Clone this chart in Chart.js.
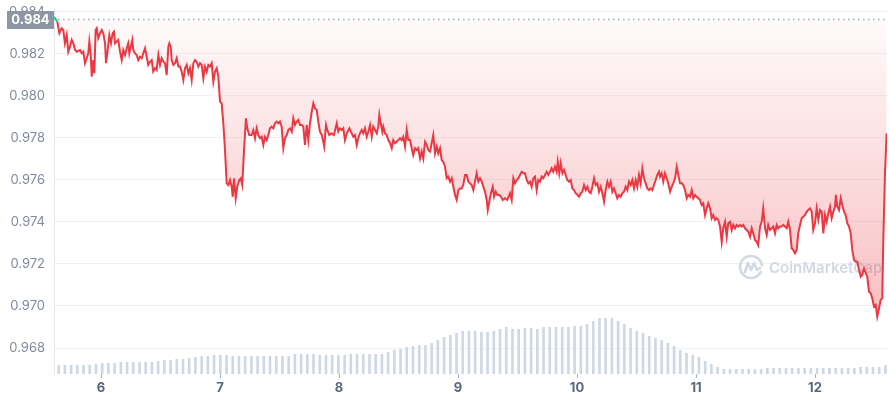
<!DOCTYPE html>
<html>
<head>
<meta charset="utf-8">
<script src="https://cdn.jsdelivr.net/npm/chart.js@4.4.1/dist/chart.umd.min.js"></script>
<style>
	html, body { margin: 0; padding: 0; background: #ffffff; }
	#wrap { width: 889px; height: 400px; position: relative; }
</style>
</head>
<body>
<div id="wrap"><canvas id="myChart"></canvas></div>
<script>
// prix (jour du mois, valeur)
var days = [
	5.605,5.633,5.650,5.670,5.683,5.697,5.712,5.725,5.739,5.754,
	5.767,5.782,5.796,5.824,5.838,5.851,5.866,5.880,5.893,5.902,
	5.913,5.922,5.935,5.944,5.955,5.964,5.977,5.992,6.006,6.019,
	6.034,6.042,6.053,6.070,6.084,6.098,6.109,6.118,6.132,6.145,
	6.160,6.174,6.187,6.202,6.216,6.229,6.238,6.250,6.263,6.271,
	6.286,6.300,6.313,6.328,6.342,6.355,6.370,6.384,6.397,6.412,
	6.426,6.439,6.454,6.468,6.482,6.496,6.510,6.524,6.538,6.552,
	6.566,6.574,6.586,6.594,6.608,6.622,6.636,6.650,6.664,6.678,
	6.692,6.706,6.720,6.734,6.748,6.762,6.776,6.790,6.804,6.818,
	6.832,6.846,6.860,6.874,6.888,6.902,6.916,6.930,6.944,6.958,
	6.972,6.986,7.000,7.014,7.028,7.042,7.056,7.070,7.084,7.098,
	7.107,7.118,7.132,7.145,7.162,7.174,7.187,7.202,7.218,7.229,
	7.246,7.266,7.280,7.294,7.308,7.322,7.336,7.350,7.364,7.378,
	7.392,7.406,7.420,7.434,7.448,7.462,7.476,7.490,7.504,7.518,
	7.532,7.546,7.561,7.574,7.588,7.603,7.616,7.630,7.645,7.658,
	7.672,7.687,7.700,7.714,7.729,7.742,7.756,7.771,7.784,7.798,
	7.813,7.826,7.840,7.855,7.868,7.876,7.891,7.902,7.918,7.939,
	7.958,7.981,7.994,8.008,8.023,8.036,8.050,8.065,8.087,8.107,
	8.120,8.134,8.149,8.162,8.176,8.191,8.204,8.218,8.233,8.246,
	8.261,8.275,8.288,8.303,8.317,8.330,8.339,8.350,8.364,8.372,
	8.387,8.401,8.414,8.429,8.443,8.456,8.471,8.485,8.498,8.513,
	8.527,8.540,8.555,8.569,8.582,8.597,8.611,8.624,8.639,8.653,
	8.666,8.681,8.695,8.708,8.723,8.737,8.750,8.765,8.779,8.792,
	8.807,8.821,8.834,8.849,8.863,8.876,8.891,8.905,8.918,8.933,
	8.947,8.961,8.975,8.989,9.003,9.017,9.031,9.044,9.059,9.073,
	9.087,9.101,9.115,9.129,9.143,9.157,9.171,9.185,9.199,9.213,
	9.227,9.241,9.250,9.263,9.277,9.292,9.303,9.317,9.330,9.347,
	9.361,9.376,9.395,9.414,9.437,9.451,9.465,9.479,9.493,9.507,
	9.521,9.535,9.549,9.563,9.577,9.591,9.605,9.619,9.633,9.647,
	9.661,9.675,9.689,9.703,9.717,9.731,9.745,9.759,9.773,9.787,
	9.801,9.815,9.829,9.838,9.851,9.863,9.877,9.891,9.905,9.918,
	9.933,9.947,9.961,9.975,9.989,10.003,10.017,10.031,10.045,10.059,
	10.073,10.087,10.101,10.115,10.129,10.143,10.157,10.171,10.185,10.199,
	10.213,10.227,10.241,10.255,10.269,10.283,10.297,10.311,10.325,10.339,
	10.353,10.367,10.381,10.395,10.409,10.423,10.437,10.451,10.465,10.479,
	10.493,10.507,10.521,10.535,10.549,10.563,10.577,10.591,10.605,10.619,
	10.633,10.647,10.661,10.675,10.689,10.697,10.711,10.725,10.739,10.754,
	10.767,10.782,10.796,10.809,10.824,10.838,10.851,10.866,10.880,10.893,
	10.908,10.922,10.935,10.950,10.964,10.977,10.992,11.006,11.019,11.034,
	11.048,11.061,11.076,11.090,11.103,11.118,11.132,11.145,11.160,11.174,
	11.187,11.202,11.216,11.229,11.244,11.258,11.271,11.286,11.300,11.313,
	11.328,11.342,11.355,11.370,11.384,11.397,11.412,11.426,11.439,11.454,
	11.468,11.481,11.496,11.510,11.523,11.538,11.552,11.565,11.580,11.594,
	11.607,11.622,11.636,11.649,11.664,11.678,11.691,11.706,11.720,11.733,
	11.748,11.762,11.775,11.790,11.804,11.817,11.832,11.846,11.859,11.874,
	11.888,11.901,11.916,11.930,11.943,11.958,11.972,11.985,12.000,12.014,
	12.028,12.042,12.056,12.070,12.084,12.098,12.112,12.126,12.140,12.154,
	12.168,12.176,12.187,12.202,12.216,12.229,12.244,12.258,12.271,12.286,
	12.300,12.313,12.328,12.342,12.355,12.370,12.384,12.397,12.412,12.426,
	12.439,12.454,12.468,12.481,12.496,12.510,12.523,12.538,12.552,12.565,
	12.574,12.588,12.602
];

var prices = [
	0.98376,0.98354,0.98299,0.98322,0.98314,0.98251,0.98290,0.98211,0.98235,0.98267,
	0.98251,0.98219,0.98211,0.98219,0.98203,0.98211,0.98156,0.98180,0.98203,0.98259,
	0.98203,0.98092,0.98171,0.98108,0.98314,0.98322,0.98275,0.98299,0.98314,0.98299,
	0.98251,0.98156,0.98203,0.98290,0.98251,0.98299,0.98306,0.98251,0.98259,0.98267,
	0.98211,0.98171,0.98219,0.98195,0.98227,0.98251,0.98203,0.98235,0.98267,0.98219,
	0.98203,0.98195,0.98171,0.98187,0.98180,0.98203,0.98227,0.98187,0.98148,0.98163,
	0.98171,0.98116,0.98132,0.98124,0.98195,0.98148,0.98180,0.98163,0.98156,0.98100,
	0.98235,0.98251,0.98235,0.98171,0.98148,0.98156,0.98180,0.98140,0.98140,0.98116,
	0.98076,0.98132,0.98148,0.98108,0.98132,0.98076,0.98156,0.98171,0.98163,0.98140,
	0.98156,0.98148,0.98084,0.98140,0.98116,0.98148,0.98140,0.98156,0.98068,0.98116,
	0.98132,0.98092,0.97973,0.97965,0.97870,0.97743,0.97584,0.97576,0.97600,0.97568,
	0.97520,0.97608,0.97513,0.97568,0.97600,0.97608,0.97576,0.97743,0.97894,0.97846,
	0.97814,0.97814,0.97838,0.97799,0.97846,0.97814,0.97799,0.97806,0.97767,0.97806,
	0.97790,0.97814,0.97846,0.97854,0.97846,0.97870,0.97878,0.97870,0.97878,0.97854,
	0.97751,0.97799,0.97814,0.97838,0.97846,0.97830,0.97894,0.97862,0.97878,0.97886,
	0.97862,0.97862,0.97854,0.97767,0.97862,0.97790,0.97870,0.97925,0.97965,0.97941,
	0.97933,0.97878,0.97830,0.97814,0.97782,0.97759,0.97862,0.97838,0.97814,0.97822,
	0.97814,0.97870,0.97830,0.97846,0.97838,0.97846,0.97790,0.97822,0.97846,0.97822,
	0.97806,0.97814,0.97767,0.97799,0.97822,0.97838,0.97822,0.97846,0.97806,0.97830,
	0.97862,0.97806,0.97854,0.97838,0.97822,0.97854,0.97910,0.97870,0.97830,0.97854,
	0.97822,0.97814,0.97790,0.97775,0.97751,0.97790,0.97775,0.97782,0.97790,0.97799,
	0.97790,0.97806,0.97759,0.97838,0.97790,0.97790,0.97751,0.97719,0.97751,0.97743,
	0.97751,0.97703,0.97735,0.97703,0.97782,0.97767,0.97743,0.97735,0.97775,0.97814,
	0.97727,0.97759,0.97727,0.97751,0.97695,0.97687,0.97663,0.97608,0.97616,0.97592,
	0.97608,0.97568,0.97529,0.97505,0.97552,0.97560,0.97560,0.97576,0.97624,0.97624,
	0.97592,0.97584,0.97576,0.97552,0.97592,0.97632,0.97592,0.97608,0.97592,0.97568,
	0.97544,0.97505,0.97457,0.97497,0.97537,0.97568,0.97520,0.97544,0.97529,0.97529,
	0.97520,0.97505,0.97513,0.97505,0.97537,0.97505,0.97608,0.97584,0.97600,0.97608,
	0.97624,0.97639,0.97632,0.97632,0.97600,0.97584,0.97592,0.97568,0.97608,0.97616,
	0.97552,0.97600,0.97592,0.97616,0.97608,0.97624,0.97639,0.97624,0.97639,0.97656,
	0.97639,0.97663,0.97639,0.97687,0.97632,0.97680,0.97632,0.97648,0.97624,0.97600,
	0.97592,0.97600,0.97560,0.97552,0.97537,0.97529,0.97520,0.97537,0.97544,0.97576,
	0.97552,0.97568,0.97544,0.97537,0.97568,0.97608,0.97576,0.97584,0.97544,0.97568,
	0.97537,0.97497,0.97552,0.97592,0.97568,0.97592,0.97544,0.97560,0.97537,0.97513,
	0.97529,0.97520,0.97537,0.97544,0.97568,0.97552,0.97592,0.97576,0.97600,0.97560,
	0.97600,0.97568,0.97624,0.97584,0.97656,0.97608,0.97584,0.97560,0.97552,0.97560,
	0.97552,0.97576,0.97600,0.97624,0.97639,0.97616,0.97632,0.97592,0.97632,0.97608,
	0.97584,0.97544,0.97568,0.97584,0.97608,0.97663,0.97624,0.97584,0.97584,0.97576,
	0.97552,0.97513,0.97529,0.97520,0.97552,0.97513,0.97529,0.97520,0.97513,0.97505,
	0.97481,0.97489,0.97433,0.97465,0.97489,0.97465,0.97418,0.97433,0.97410,0.97418,
	0.97410,0.97378,0.97306,0.97370,0.97401,0.97330,0.97394,0.97401,0.97362,0.97386,
	0.97370,0.97386,0.97378,0.97386,0.97378,0.97386,0.97370,0.97362,0.97354,0.97330,
	0.97370,0.97346,0.97314,0.97306,0.97290,0.97378,0.97401,0.97465,0.97370,0.97338,
	0.97386,0.97362,0.97370,0.97378,0.97346,0.97386,0.97370,0.97378,0.97378,0.97386,
	0.97378,0.97370,0.97401,0.97362,0.97275,0.97267,0.97251,0.97267,0.97346,0.97386,
	0.97418,0.97425,0.97433,0.97449,0.97457,0.97465,0.97449,0.97362,0.97394,0.97465,
	0.97410,0.97457,0.97449,0.97346,0.97433,0.97401,0.97441,0.97473,0.97418,0.97449,
	0.97473,0.97529,0.97473,0.97457,0.97513,0.97481,0.97449,0.97433,0.97394,0.97378,
	0.97346,0.97267,0.97219,0.97211,0.97211,0.97171,0.97140,0.97148,0.97179,0.97156,
	0.97140,0.97068,0.97060,0.97037,0.96997,0.97005,0.96949,0.96989,0.97029,0.97037,
	0.97314,0.97632,0.97822
];

// volume (relatif), barres régulières sur la période
var volumes = [
	9,9,9,9,9,9,10,11,11,11,
	12,12,12,12,12,12,13,14,14,15,
	15,16,17,18,18,19,19,19,18,18,
	18,18,18,18,18,18,18,18,20,20,
	20,20,19,19,19,19,19,20,20,20,
	20,20,20,22,24,25,27,28,29,29,
	31,34,37,39,41,43,43,43,42,42,
	43,45,47,45,45,46,46,45,47,47,
	47,47,47,48,48,50,53,56,56,56,
	53,50,46,43,41,38,36,34,31,28,
	24,21,19,17,13,10,7,5,5,5,
	5,5,5,5,6,6,6,6,6,6,
	6,6,6,6,6,6,6,6,6,7,
	7,7,7,9
];

var openPrice = 0.98364;
var openLabel = '0.984';
var yTicks = [0.968, 0.970, 0.972, 0.974, 0.976, 0.978, 0.980, 0.982, 0.984];
var xTicks = [6, 7, 8, 9, 10, 11, 12];

var RED = '#ea3943';
var GREEN = '#16c784';

var linePoints = days.map(function(d, i) { return {x: d, y: prices[i]}; });

//
// ligne pointillée + étiquette du prix d'ouverture
//
var openLinePlugin = {
	id: 'openLine',
	afterDatasetsDraw: function(chart) {
		var ctx = chart.ctx;
		var area = chart.chartArea;
		var y = chart.scales.y.getPixelForValue(openPrice);
		ctx.save();
		ctx.strokeStyle = '#a3abb8';
		ctx.lineWidth = 1.5;
		ctx.setLineDash([1.5, 3.5]);
		ctx.beginPath();
		ctx.moveTo(area.left + 4, y);
		ctx.lineTo(area.right, y);
		ctx.stroke();
		ctx.restore();
	},
	afterDraw: function(chart) {
		var ctx = chart.ctx;
		var area = chart.chartArea;
		var y = chart.scales.y.getPixelForValue(openPrice);
		ctx.save();
		ctx.fillStyle = '#8e96a4';
		ctx.fillRect(7, Math.round(y) - 9, area.left - 7, 18);
		ctx.fillStyle = '#ffffff';
		ctx.font = 'bold 13px Inter';
		ctx.textAlign = 'center';
		ctx.textBaseline = 'middle';
		ctx.fillText(openLabel, 7 + (area.left - 7) / 2, Math.round(y) + 0.5);
		ctx.restore();
	}
};

//
// filigrane
//
var watermarkPlugin = {
	id: 'watermark',
	beforeDatasetsDraw: function(chart) {
		var ctx = chart.ctx;
		var cx = 751, cy = 267;
		ctx.save();
		ctx.strokeStyle = '#d3d9e4';
		ctx.lineWidth = 2.6;
		ctx.lineCap = 'round';
		ctx.lineJoin = 'round';
		ctx.beginPath();
		ctx.arc(cx, cy, 11, 0.15 * Math.PI, 1.95 * Math.PI, false);
		ctx.stroke();
		ctx.beginPath();
		ctx.moveTo(cx - 6, cy + 5);
		ctx.lineTo(cx - 3, cy - 4);
		ctx.lineTo(cx, cy + 3);
		ctx.lineTo(cx + 3, cy - 4);
		ctx.lineTo(cx + 6, cy + 3);
		ctx.lineTo(cx + 9, cy + 1);
		ctx.stroke();
		ctx.fillStyle = '#d3d9e4';
		ctx.font = '600 15px Inter';
		ctx.textAlign = 'left';
		ctx.textBaseline = 'middle';
		ctx.fillText('CoinMarketCap', 769, cy + 1);
		ctx.restore();
	}
};

var canvas = document.getElementById('myChart');
var ctx = canvas.getContext('2d');

var chart = new Chart(ctx, {
	data: {
		labels: volumes.map(function(v, i) { return i; }),
		datasets: [
		{
			type: 'line',
			data: linePoints,
			xAxisID: 'x',
			yAxisID: 'y',
			borderColor: RED,
			borderWidth: 2,
			pointRadius: 0,
			tension: 0,
			segment: {
				borderColor: function(c) {
					return (c.p0.parsed.y > openPrice || c.p1.parsed.y > openPrice) ? GREEN : RED;
				}
			},
			fill: {value: openPrice},
			backgroundColor: function(context) {
				var area = context.chart.chartArea;
				if (!area) return 'rgba(234,57,67,0.1)';
				var g = context.chart.ctx.createLinearGradient(0, area.top, 0, area.bottom);
				g.addColorStop(0, 'rgba(234,57,67,0.01)');
				g.addColorStop(1, 'rgba(234,57,67,0.38)');
				return g;
			},
			order: 1
		},
		{
			type: 'bar',
			data: volumes,
			xAxisID: 'xv',
			yAxisID: 'yv',
			backgroundColor: '#cfd6e4',
			barPercentage: 0.84,
			categoryPercentage: 1,
			order: 2
		}]
	},
	options: {
		responsive: true,
		maintainAspectRatio: false,
		animation: false,
		layout: {
			padding: {top: 8, right: 2, left: 0, bottom: 0}
		},
		scales: {
			x: {
				type: 'linear',
				position: 'bottom',
				min: 5.605,
				max: 12.605,
				afterBuildTicks: function(scale) {
					scale.ticks = xTicks.map(function(v) { return {value: v}; });
				},
				afterFit: function(scale) { scale.height = 26; },
				border: { display: false },
				grid: {
					drawOnChartArea: false,
					drawTicks: true,
					tickLength: 4,
					color: '#a7b0be'
				},
				ticks: {
					padding: 2,
					color: '#58667e',
					font: { family: 'Inter', size: 13, weight: 'bold' },
					maxRotation: 0,
					callback: function(value) { return value; }
				}
			},
			y: {
				type: 'linear',
				position: 'left',
				min: 0.966762,
				max: 0.984190,
				afterBuildTicks: function(scale) {
					scale.ticks = yTicks.map(function(v) { return {value: v}; });
				},
				afterFit: function(scale) {
					scale.width = 54;
					scale.paddingTop = 0;
					scale.paddingBottom = 0;
				},
				border: { display: true, color: '#e3e7ed' },
				grid: {
					color: '#eff2f5',
					drawTicks: false
				},
				ticks: {
					padding: 9,
					color: '#808a9d',
					font: { family: 'Inter', size: 13 },
					callback: function(value) { return value.toFixed(3); }
				}
			},
			xv: {
				type: 'category',
				display: false,
				offset: true
			},
			yv: {
				type: 'linear',
				display: false,
				min: 0,
				max: 366
			}
		},
		plugins: {
			legend: { display: false },
			tooltip: { enabled: false }
		}
	},
	plugins: [watermarkPlugin, openLinePlugin]
});
</script>
</body>
</html>
